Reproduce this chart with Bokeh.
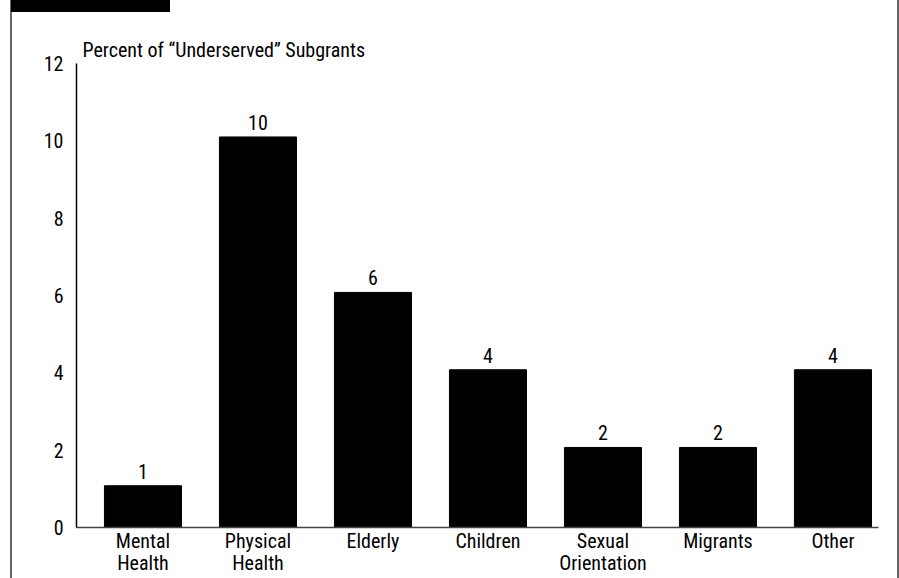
from bokeh.plotting import figure
from bokeh.models import Range1d, FixedTicker, ColumnDataSource
from bokeh.core.properties import value
from bokeh.embed import file_html
from bokeh.resources import INLINE

# ---- data ----
categories = ["Mental\nHealth", "Physical\nHealth", "Elderly", "Children",
              "Sexual\nOrientation", "Migrants", "Other"]
percent = [1.08, 10.1, 6.08, 4.08, 2.07, 2.07, 4.08]
value_labels = ["1", "10", "6", "4", "2", "2", "4"]
y_ticks = [0, 2, 4, 6, 8, 10, 12]
y_title = "Percent  of \u201cUnderserved\u201d Subgrants"

FONT = "Roboto Condensed"

positions = list(range(len(categories)))
src = ColumnDataSource(dict(x=positions, top=percent, lab=value_labels))

p = figure(width=899, height=578, output_backend="svg", toolbar_location=None,
           x_range=Range1d(-0.578, 6.396), y_range=Range1d(0, 12),
           min_border_left=76, min_border_right=21, min_border_top=63,
           min_border_bottom=48)
p.outline_line_color = None
p.grid.visible = False
p.background_fill_color = "white"
p.border_fill_alpha = 0

# page frame decorations drawn as CSS backgrounds behind the transparent border
p.styles = {
    "background": (
        "linear-gradient(#000,#000) 11px 0px / 159px 12px no-repeat, "
        "linear-gradient(#666,#666) 10px 0px / 2px 100% no-repeat, "
        "linear-gradient(#666,#666) 897px 0px / 2px 100% no-repeat, "
        "#ffffff"
    )
}

p.vbar(x="x", top="top", width=0.67, source=src, fill_color="black",
       line_color="black")
p.text(x="x", y="top", text="lab", source=src, text_align="center",
       text_baseline="bottom", y_offset=-7, text_font=value(FONT),
       text_font_size="20px", text_color="black")

xa = p.xaxis[0]
xa.ticker = FixedTicker(ticks=positions)
xa.major_label_overrides = {i: c for i, c in zip(positions, categories)}
xa.major_tick_line_color = None
xa.minor_tick_line_color = None
xa.major_tick_out = 0
xa.minor_tick_out = 0
xa.axis_line_color = "#444444"
xa.axis_line_width = 1.5
xa.major_label_text_font = FONT
xa.major_label_text_font_size = "20px"
xa.major_label_text_color = "black"
xa.major_label_text_line_height = 0.95
xa.major_label_standoff = 1

ya = p.yaxis[0]
ya.ticker = FixedTicker(ticks=y_ticks)
ya.major_tick_line_color = None
ya.minor_tick_line_color = None
ya.major_tick_out = 0
ya.minor_tick_out = 0
ya.axis_line_color = "black"
ya.axis_line_width = 1.5
ya.major_label_text_font = FONT
ya.major_label_text_font_size = "20px"
ya.major_label_text_color = "black"
ya.major_label_standoff = 13

p.title.text = y_title
p.title.align = "left"
p.title.offset = 6
p.title.standoff = 3
p.title.text_font = FONT
p.title.text_font_size = "20px"
p.title.text_font_style = "normal"
p.title.text_color = "black"

open("out.html", "w").write(file_html(p, INLINE))
